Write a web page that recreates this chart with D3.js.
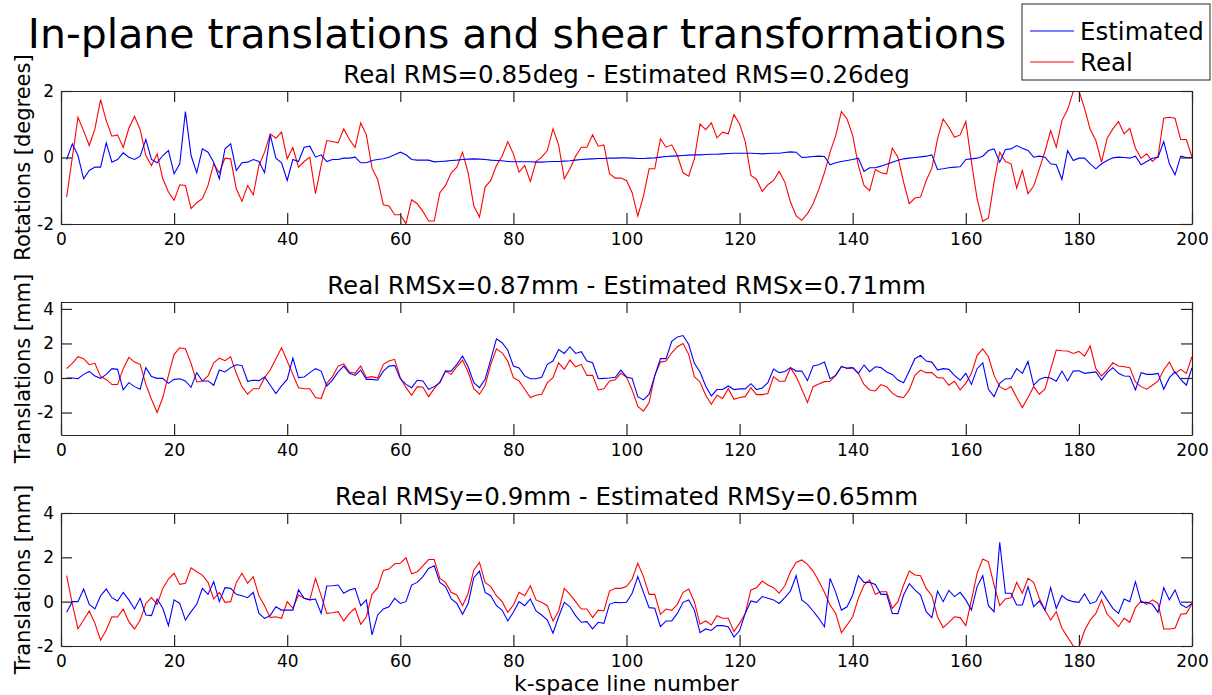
<!DOCTYPE html>
<html>
<head>
<meta charset="utf-8">
<script src="https://cdn.jsdelivr.net/npm/d3@7"></script>
<style>
  html, body { margin: 0; padding: 0; background: #fff; }
  svg { display: block; }
  text { font-family: "DejaVu Sans", sans-serif; fill: #000; }
</style>
</head>
<body>
<svg id="chart" width="1212" height="695"></svg>
<script>
// k-space line index 1..200
const lineIndex = d3.range(1, 201);

// Rotations [degrees]
const rotReal = [
-1.19,0.0,1.21,0.8,0.36,0.86,1.74,1.11,0.64,0.68,0.30,0.88,1.24,0.84,0.06,-0.24,0.11,-0.64,-1.04,-1.29,
-0.82,-0.84,-1.54,-1.36,-1.24,-0.84,-0.19,-0.46,-0.02,-0.04,-0.94,-1.32,-0.84,-1.12,-0.24,0.16,0.71,0.58,0.76,-0.04,
0.30,-0.29,-0.12,0.01,-1.09,-0.24,0.51,0.48,0.44,0.86,0.54,0.30,1.04,0.68,-0.32,-0.66,-1.42,-1.46,-1.72,-1.72,
-1.99,-1.27,-1.39,-1.62,-1.91,-1.91,-1.06,-0.84,-0.46,-0.29,0.16,-0.46,-1.46,-1.79,-0.89,-0.69,-0.24,0.04,0.48,0.11,
-0.44,-0.24,-0.72,-0.12,0.01,0.21,0.86,0.38,-0.64,-0.34,0.04,0.31,0.31,0.68,0.34,0.38,-0.49,-0.62,-0.62,-0.69,
-1.06,-1.76,-1.16,-0.34,-0.34,0.56,0.31,0.38,0.06,-0.46,-0.56,-0.04,1.01,0.84,1.04,0.59,0.76,0.71,1.29,1.01,
0.48,-0.54,-0.66,-1.02,-0.82,-0.69,-0.42,-0.74,-1.34,-1.76,-1.89,-1.69,-1.39,-0.96,-0.46,0.16,0.66,1.38,1.16,0.66,
-0.24,-0.84,-1.00,-0.36,-0.46,-0.49,0.28,0.01,-0.74,-1.39,-1.22,-1.19,-0.69,-0.32,0.56,1.16,0.91,0.61,0.68,1.08,
-0.14,-1.24,-1.92,-1.82,-0.74,0.16,-0.12,-0.19,-0.92,-0.39,-1.09,-0.86,-0.34,0.18,0.81,0.31,1.11,1.44,1.98,2.01,
1.48,0.84,0.51,-0.14,0.58,0.86,1.08,0.71,0.88,0.28,-0.02,0.11,-0.12,0.04,1.18,1.21,1.18,0.54,0.54,0.01
];
const rotEst = [
-0.06,0.41,0.06,-0.64,-0.39,-0.29,-0.29,0.44,-0.14,-0.06,0.14,0.01,-0.06,0.04,0.54,-0.06,-0.16,0.06,0.21,-0.49,
-0.19,1.38,0.06,-0.46,0.26,0.16,-0.14,-0.64,0.26,0.41,-0.39,-0.16,-0.14,-0.06,-0.12,-0.46,0.68,-0.02,-0.16,-0.69,
-0.06,-0.12,0.31,0.34,0.01,0.08,-0.12,-0.06,-0.06,-0.02,-0.02,0.01,-0.16,-0.16,-0.09,-0.06,-0.04,0.01,0.08,0.16,
0.08,-0.06,-0.08,-0.08,-0.08,-0.13,-0.12,-0.11,-0.09,-0.08,-0.06,-0.05,-0.04,-0.05,-0.06,-0.08,-0.09,-0.10,-0.12,-0.13,
-0.13,-0.13,-0.13,-0.14,-0.14,-0.13,-0.12,-0.12,-0.11,-0.10,-0.08,-0.06,-0.05,-0.04,-0.03,-0.03,-0.02,-0.02,-0.01,-0.01,
-0.02,-0.03,-0.03,-0.02,-0.01,0.01,0.03,0.04,0.05,0.06,0.07,0.08,0.08,0.09,0.10,0.10,0.11,0.12,0.13,0.13,
0.13,0.13,0.12,0.11,0.12,0.13,0.13,0.15,0.17,0.16,0.00,0.01,0.03,0.04,0.03,-0.22,-0.16,-0.12,-0.09,-0.06,
-0.02,-0.42,-0.31,-0.31,-0.26,-0.20,-0.14,-0.08,-0.04,-0.02,0.00,0.02,0.04,0.08,-0.36,-0.34,-0.31,-0.29,-0.28,-0.06,
-0.04,-0.02,0.04,0.21,0.26,-0.14,0.24,0.26,0.36,0.28,0.21,0.01,0.04,0.01,-0.19,-0.22,-0.66,0.21,-0.09,-0.02,
-0.02,-0.19,-0.34,-0.19,-0.09,-0.01,0.01,0.00,-0.02,0.04,-0.22,-0.12,-0.02,0.01,0.48,-0.19,-0.52,0.04,0.00,0.00
];

// In-plane translations along x [mm]
const transXReal = [
0.54,0.85,1.23,1.12,0.77,0.85,0.08,-0.08,-0.38,-0.38,0.54,1.19,0.92,0.79,-0.37,-1.23,-2.0,-1.13,0.15,1.37,
1.75,1.69,0.85,-0.23,-0.17,0.12,0.88,1.15,1.0,1.23,0.27,-0.5,-0.94,-0.62,-0.62,0.02,0.46,1.12,1.75,0.98,
0.21,-0.56,-0.62,-0.62,-1.13,-1.19,-0.31,0.08,0.69,0.81,0.35,0.27,0.69,0.02,0.08,0.0,0.79,0.98,1.08,0.02,
-0.56,-1.0,-0.5,-0.54,-1.08,-0.62,-0.23,0.4,0.21,0.65,1.04,0.35,-0.62,-0.94,-0.42,0.79,1.69,1.46,0.98,0.02,
-0.17,-0.65,-1.13,-1.0,-0.94,-0.27,0.02,0.88,0.5,1.04,0.65,0.79,0.15,0.15,-0.69,-0.62,-0.17,-0.1,0.27,0.05,
-0.69,-1.65,-1.92,-1.42,0.15,0.92,0.98,1.46,1.81,2.0,1.37,0.08,-0.23,-1.0,-1.52,-1.0,-1.19,-0.62,-1.23,-1.13,
-1.08,-0.56,-0.96,-0.96,-0.9,0.08,-0.19,-0.19,0.58,0.08,-0.65,-1.42,-0.5,-0.35,-0.21,-0.19,0.15,0.69,0.54,0.6,
0.27,-0.37,-0.69,-0.75,-0.38,-0.5,-0.88,-1.08,-1.13,-0.69,0.15,0.46,0.31,0.31,0.02,0.0,-0.42,-0.19,-0.69,-0.31,
0.27,1.31,1.69,1.23,0.15,-0.5,-0.69,-0.5,-1.13,-1.71,-1.13,-0.5,-0.94,-0.65,0.5,1.62,1.58,1.56,1.42,1.54,
1.27,1.85,0.54,0.12,0.46,0.88,0.69,0.65,0.6,-0.23,-0.5,-0.65,-0.42,-0.17,0.46,0.92,0.27,0.5,0.27,1.23
];
const transXEst = [
0.0,0.0,-0.04,0.21,0.38,0.12,-0.02,0.21,0.54,0.5,-0.69,-0.27,-0.5,-0.65,0.6,0.08,-0.02,-0.02,-0.31,-0.08,
-0.04,-0.17,-0.54,0.31,-0.17,-0.17,-0.42,0.46,0.35,0.6,0.77,0.73,-0.19,-0.13,-0.15,0.06,-0.42,-0.9,-0.46,-0.08,
1.15,0.02,0.06,0.31,0.54,0.4,-0.46,-0.12,0.35,0.69,0.27,0.15,0.46,-0.08,-0.08,-0.13,0.4,0.69,0.73,-0.04,
-0.37,-0.56,-0.13,-0.17,-0.65,-0.5,-0.27,0.4,0.4,0.79,1.27,0.65,-0.27,-0.56,-0.08,1.08,2.27,2.04,1.62,0.69,
0.58,0.12,-0.04,-0.04,0.04,0.79,0.98,1.65,1.42,1.81,1.42,1.52,0.98,0.88,-0.04,-0.02,0.0,0.04,0.46,0.06,
-0.02,-1.08,-1.27,-0.94,0.12,1.12,1.12,2.13,2.38,2.46,1.94,0.85,0.35,-0.46,-1.04,-0.67,-0.67,-0.46,-0.67,-0.63,
-0.63,-0.33,-0.67,-0.58,-0.27,0.52,0.31,0.38,0.6,0.4,0.4,-0.15,0.69,0.77,0.92,-0.04,0.15,0.65,0.58,0.6,
0.27,0.75,0.37,0.65,0.6,0.35,0.21,-0.12,-0.27,0.4,1.12,1.31,0.98,0.92,0.46,0.54,0.5,0.15,-0.13,0.27,
-0.37,0.54,0.88,-0.65,-1.08,-0.31,-0.04,-0.04,0.54,0.27,0.96,-0.42,-0.08,0.04,0.0,-0.19,0.4,-0.17,0.4,0.42,
0.27,0.31,0.35,-0.12,0.31,0.6,0.27,0.12,0.1,-0.69,0.31,0.21,0.21,0.27,-0.65,0.02,0.35,-0.08,-0.42,0.6
];

// In-plane translations along y [mm]
const transYReal = [
1.17,-0.1,-1.23,-0.83,-0.42,-0.98,-1.74,-1.28,-0.68,-0.69,-0.33,-0.9,-1.23,-0.83,-0.08,0.18,-0.12,0.6,1.02,1.28,
0.78,0.83,1.53,1.35,1.2,0.87,0.12,0.42,-0.03,0.0,0.87,1.28,0.83,1.13,0.27,-0.18,-0.72,-0.68,-0.75,0.0,
-0.3,0.3,0.15,0.08,1.05,0.27,-0.53,-0.5,-0.45,-0.87,-0.53,-0.3,-1.02,-0.68,0.33,0.63,1.41,1.47,1.71,1.73,
1.98,1.26,1.35,1.62,1.9,1.9,1.05,0.87,0.42,0.3,-0.18,0.38,1.43,1.77,0.87,0.68,0.27,0.0,-0.48,-0.15,
0.42,0.27,0.72,0.08,-0.03,-0.18,-0.87,-0.42,0.6,0.33,0.0,-0.33,-0.33,-0.72,-0.38,-0.42,0.48,0.6,0.6,0.68,
1.02,1.73,1.13,0.33,0.33,-0.57,-0.33,-0.39,-0.12,0.42,0.57,0.0,-1.02,-0.87,-1.05,-0.63,-0.75,-0.75,-1.35,-0.98,
-0.53,0.53,0.63,0.93,0.75,0.63,0.38,0.72,1.35,1.77,1.88,1.68,1.38,0.93,0.42,-0.15,-0.53,-1.4,-1.05,-0.68,
0.15,0.75,0.98,0.33,0.45,0.45,-0.3,0.0,0.75,1.38,1.2,1.17,0.6,0.27,-0.68,-1.17,-0.93,-0.68,-0.72,-1.08,
0.08,1.28,1.92,1.8,0.75,-0.18,0.12,0.18,0.87,0.38,1.05,0.87,0.15,-0.38,-0.83,-0.45,-1.2,-1.6,-2.0,-2.05,
-1.3,-0.83,-0.53,0.08,-0.57,-0.83,-1.13,-0.75,-0.93,-0.27,0.03,-0.12,0.08,-0.08,-1.23,-1.23,-1.2,-0.57,-0.54,-0.08
];
const transYEst = [
-0.48,0.0,0.0,0.57,-0.12,-0.33,0.27,0.57,0.18,0.03,0.42,0.08,-0.33,0.15,-0.6,-0.63,0.12,-0.3,-1.08,0.08,
-0.08,-0.83,-0.45,-0.12,0.6,0.33,0.9,0.0,0.63,0.6,0.33,0.27,0.18,0.42,-0.53,-0.75,-0.63,-0.23,-0.38,-0.38,
-0.38,0.53,0.15,0.08,0.12,-0.53,0.71,0.72,0.75,0.38,0.53,0.6,-0.18,0.08,-1.5,-0.6,-0.33,-0.23,0.15,-0.08,
0.0,0.75,0.87,1.13,1.5,1.62,0.87,0.68,0.12,-0.08,-0.57,-0.08,1.08,1.38,0.42,0.27,-0.18,-0.38,-0.87,-0.48,
0.0,-0.18,0.12,-0.42,-0.6,-0.83,-1.42,-0.68,-0.03,-0.23,-0.63,-0.93,-0.9,-1.23,-0.93,-0.98,-0.12,-0.03,-0.05,-0.03,
0.38,1.13,0.42,-0.27,-0.3,-1.13,-0.87,-0.87,-0.53,-0.03,0.08,-0.38,-1.4,-1.23,-1.3,-1.08,-1.08,-1.13,-1.6,-1.3,
-0.53,0.03,-0.03,0.23,0.15,0.08,-0.08,0.18,0.48,1.17,0.08,-0.12,-0.42,-0.75,-1.13,1.05,0.42,-0.38,-0.23,0.3,
1.17,0.87,0.87,0.78,0.33,0.33,-0.53,-0.54,0.3,0.81,0.53,0.3,-0.45,-0.72,0.48,0.0,0.51,0.23,0.42,0.08,
-0.38,0.68,1.17,-0.18,-0.45,2.68,0.38,0.38,-0.15,-0.15,0.68,-0.23,0.03,-0.38,0.63,-0.3,0.27,0.08,0.0,-0.03,
0.36,-0.09,0.0,0.48,0.08,-0.3,-0.53,0.12,0.0,0.9,-0.03,-0.03,-0.12,-0.48,0.63,0.08,0.53,-0.12,-0.27,-0.08
];

// Axis ticks and text
const xTicks = [0, 20, 40, 60, 80, 100, 120, 140, 160, 180, 200];
const rotTicks = [-2, 0, 2];
const transTicks = [-2, 0, 2, 4];
const panelTitles = [
  "Real RMS=0.85deg - Estimated RMS=0.26deg",
  "Real RMSx=0.87mm - Estimated RMSx=0.71mm",
  "Real RMSy=0.9mm - Estimated RMSy=0.65mm"
];
const yLabels = ["Rotations [degrees]", "Translations [mm]", "Translations [mm]"];
const mainTitle = "In-plane translations and shear transformations";
const xLabel = "k-space line number";
const legendNames = ["Estimated", "Real"];
const estColor = "#0000ff", realColor = "#ff0000";

const svg = d3.select("#chart");
svg.append("rect").attr("width", 1212).attr("height", 695).attr("fill", "#fff");

const left = 61, right = 1192, panelH = 133;
const x = d3.scaleLinear().domain([0, 200]).range([left, right]);
const plainNum = d => String(d);

const panels = [
  { top: 91,  domain: [-2, 2],     ticks: rotTicks,   est: rotEst,    real: rotReal },
  { top: 302, domain: [-3.3, 4.4], ticks: transTicks, est: transXEst, real: transXReal },
  { top: 513, domain: [-2, 4],     ticks: transTicks, est: transYEst, real: transYReal }
];

const axisColor = "#262626";
const tickLen = 11;

panels.forEach((p, i) => {
  const y = d3.scaleLinear().domain(p.domain).range([p.top + panelH, p.top]);
  const g = svg.append("g");

  const clipId = "clip" + i;
  svg.append("clipPath").attr("id", clipId)
    .append("rect").attr("x", left).attr("y", p.top)
    .attr("width", right - left).attr("height", panelH);

  const line = d3.line().x((d, k) => x(lineIndex[k])).y(d => y(d));
  const lines = g.append("g").attr("clip-path", `url(#${clipId})`);
  lines.append("path").datum(p.real)
    .attr("fill", "none").attr("stroke", realColor).attr("stroke-width", 1.1)
    .attr("d", line);
  lines.append("path").datum(p.est)
    .attr("fill", "none").attr("stroke", estColor).attr("stroke-width", 1.1)
    .attr("d", line);

  // box axes with inward ticks
  const bottom = g.append("g").attr("transform", `translate(0,${p.top + panelH})`)
    .call(d3.axisBottom(x).tickValues(xTicks).tickFormat(plainNum)
      .tickSizeInner(-tickLen).tickSizeOuter(0).tickPadding(7));
  const top = g.append("g").attr("transform", `translate(0,${p.top})`)
    .call(d3.axisTop(x).tickValues(xTicks).tickSizeInner(-tickLen).tickSizeOuter(0).tickFormat(""));
  const leftAx = g.append("g").attr("transform", `translate(${left},0)`)
    .call(d3.axisLeft(y).tickValues(p.ticks).tickFormat(plainNum)
      .tickSizeInner(-tickLen).tickSizeOuter(0).tickPadding(7));
  const rightAx = g.append("g").attr("transform", `translate(${right},0)`)
    .call(d3.axisRight(y).tickValues(p.ticks).tickSizeInner(-tickLen).tickSizeOuter(0).tickFormat(""));

  [bottom, top, leftAx, rightAx].forEach(a => {
    a.select(".domain").attr("stroke", axisColor).attr("stroke-width", 1.2);
    a.selectAll(".tick line").attr("stroke", axisColor).attr("stroke-width", 1.2);
    a.selectAll(".tick text").attr("font-size", 17).attr("font-family", "DejaVu Sans, sans-serif").attr("fill", "#000");
  });
  bottom.selectAll(".tick text").attr("dy", "0.85em");

  // panel subtitle
  svg.append("text")
    .attr("x", (left + right) / 2).attr("y", p.top - 8)
    .attr("text-anchor", "middle").attr("font-size", 24.5)
    .text(panelTitles[i]);

  // y-axis label
  svg.append("text")
    .attr("transform", `translate(30,${p.top + panelH / 2}) rotate(-90)`)
    .attr("text-anchor", "middle").attr("font-size", 21)
    .text(yLabels[i]);
});

// x-axis label
svg.append("text")
  .attr("x", (left + right) / 2).attr("y", 691)
  .attr("text-anchor", "middle").attr("font-size", 22)
  .text(xLabel);

// main title
svg.append("text")
  .attr("x", 517).attr("y", 48)
  .attr("text-anchor", "middle").attr("font-size", 41)
  .text(mainTitle);

// legend
const lg = svg.append("g").attr("transform", "translate(1022,4)");
lg.append("rect").attr("width", 188).attr("height", 76)
  .attr("fill", "#fff").attr("stroke", axisColor).attr("stroke-width", 1);
legendNames.forEach((name, k) => {
  const yy = 27 + k * 31;
  lg.append("line").attr("x1", 8).attr("x2", 52).attr("y1", yy).attr("y2", yy)
    .attr("stroke", k === 0 ? estColor : realColor).attr("stroke-width", 1.1);
  lg.append("text").attr("x", 58).attr("y", yy + 9).attr("font-size", 24.5).text(name);
});
</script>
</body>
</html>
